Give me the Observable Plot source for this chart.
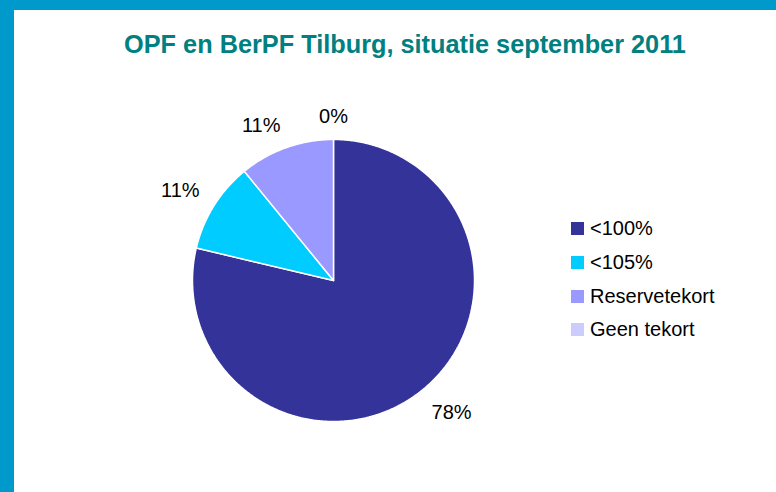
<!DOCTYPE html>
<html><head><meta charset="utf-8">
<script src="https://cdn.jsdelivr.net/npm/d3@7"></script>
<script src="https://cdn.jsdelivr.net/npm/@observablehq/plot@0.6"></script>
<style>
body{margin:0;background:#fff;font-family:"Liberation Sans",Arial,sans-serif;}
#wrap{position:relative;width:776px;height:492px;overflow:hidden;background:#fff}
#topbar{position:absolute;left:0;top:0;width:776px;height:10px;background:#0099CC}
#leftbar{position:absolute;left:0;top:0;width:14px;height:492px;background:#0099CC}
#title{position:absolute;left:405px;top:32px;transform:translateX(-50%);white-space:nowrap;font-size:25.3px;line-height:25px;font-weight:bold;color:#008080}
#chart{position:absolute;left:0;top:0}
.row{position:absolute;left:571px;height:24px;display:flex;align-items:center;font-size:20px;color:#000;white-space:nowrap}
.sw{width:13px;height:13px;margin-right:6px;flex:none}
</style></head>
<body>
<div id="wrap">
  <div id="topbar"></div>
  <div id="leftbar"></div>
  <div id="title">OPF en BerPF Tilburg, situatie september 2011</div>
  <div id="chart"></div>
  <div id="legend"></div>
</div>
<script>
const categories = ["<100%", "<105%", "Reservetekort", "Geen tekort"];
const shares = [78.7, 10.4, 10.9, 0];
const labels = ["78%", "11%", "11%", "0%"];
const colors = ["#333399", "#00CCFF", "#9999FF", "#CCCCFF"];

const R = 141, CX = 333, CY = 280;
const pie = d3.pie().sort(null).startAngle(0).endAngle(2 * Math.PI)(shares);

const pts = [];
pie.forEach((s, i) => {
  if (s.endAngle - s.startAngle <= 0) return;
  const cat = categories[i];
  pts.push({cat, x: 0, y: 0});
  const n = Math.max(2, Math.ceil((s.endAngle - s.startAngle) / 0.01));
  for (let k = 0; k <= n; k++) {
    const a = s.startAngle + (s.endAngle - s.startAngle) * k / n;
    pts.push({cat, x: Math.sin(a), y: Math.cos(a)});
  }
  pts.push({cat, x: 0, y: 0});
});

const pad = 17;
const lab = pie.map((s, i) => {
  const a = (s.startAngle + s.endAngle) / 2;
  const sn = Math.sin(a), cs = Math.cos(a);
  return {
    text: labels[i],
    x: (R + pad) * sn / R,
    y: (R + pad) * cs / R,
    h: Math.abs(sn) < 0.05 ? "middle" : sn > 0 ? "start" : "end",
    v: cs >= 0 ? "bottom" : "top"
  };
});

const textMarks = [];
for (const h of ["start", "middle", "end"]) {
  for (const v of ["top", "bottom"]) {
    const sub = lab.filter(d => d.h === h && d.v === v);
    if (!sub.length) continue;
    textMarks.push(Plot.text(sub, {x: "x", y: "y", text: "text", fontSize: 20, fill: "black", textAnchor: h, lineAnchor: v}));
  }
}

const plot = Plot.plot({
  width: 776, height: 492,
  margin: 0,
  x: {domain: [-1, 1], range: [CX - R, CX + R], axis: null},
  y: {domain: [-1, 1], range: [CY + R, CY - R], axis: null},
  color: {domain: categories, range: colors},
  style: {background: "transparent", fontFamily: "'Liberation Sans', Arial, sans-serif"},
  marks: [
    Plot.line(pts, {x: "x", y: "y", z: "cat", fill: "cat", stroke: "white", strokeWidth: 1.5, strokeLinejoin: "miter"}),
    ...textMarks
  ]
});
document.getElementById("chart").appendChild(plot);

const leg = document.getElementById("legend");
categories.forEach((c, i) => {
  const row = document.createElement("div");
  row.className = "row";
  row.style.top = (228.5 + i * 33.8 - 12) + "px";
  const sw = document.createElement("span");
  sw.className = "sw";
  sw.style.background = colors[i];
  const t = document.createElement("span");
  t.textContent = c;
  row.appendChild(sw); row.appendChild(t);
  leg.appendChild(row);
});
</script>
</body></html>
